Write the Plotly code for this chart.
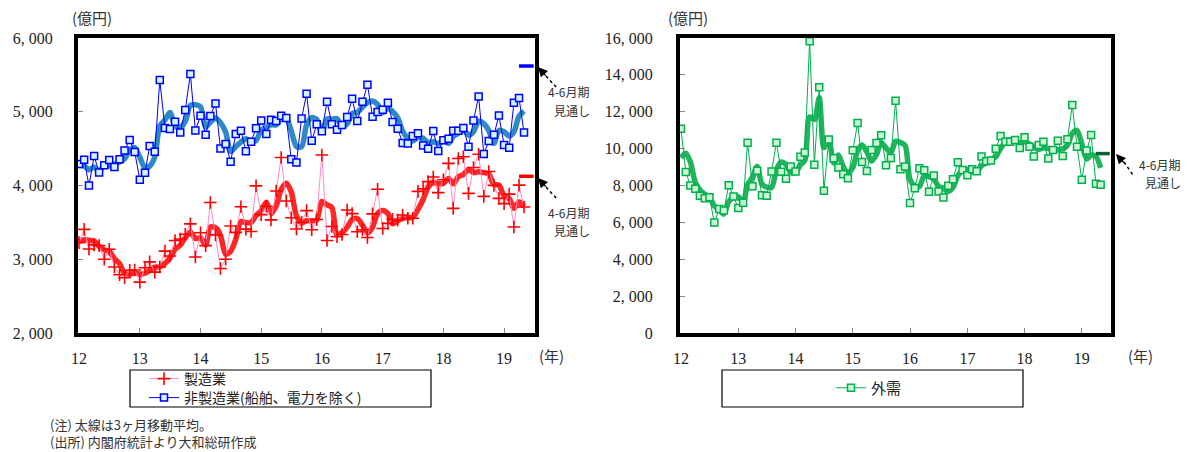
import plotly.graph_objects as go
import pandas as pd

W, H = 1187, 452

# ---------------- data ----------------
months = pd.date_range("2012-01-01", periods=89, freq="MS")

mfg = [3225, 3405, 3140, 3195, 3185, 3000, 3135, 2895, 2790, 2750, 2850, 2855, 2690, 2885, 2965, 2825,
       2895, 3110, 3045, 3255, 3275, 3340, 3480, 3030, 3360, 3185, 3770, 3330, 2875, 3000, 3450, 3365,
       3712, 3408, 3376, 3995, 3605, 3718, 3534, 3925, 4380, 3790, 3563, 3410, 3500, 3660, 3400, 3540,
       4413, 3255, 3445, 3305, 3335, 3668, 3618, 3372, 3400, 3295, 3615, 3950, 3417, 3487, 3543, 3530,
       3600, 3555, 3555, 3920, 3955, 4052, 4115, 3903, 4078, 4300, 3690, 4367, 4390, 3893, 4245, 4424,
       3853, 4190, 4002, 3826, 3754, 3883, 3438, 4005, 3708]
mfg_ma = [3245, 3265, 3257, 3247, 3173, 3127, 3107, 3010, 2940, 2812, 2797, 2818, 2798, 2810, 2847, 2892,
          2895, 2943, 3017, 3137, 3192, 3290, 3365, 3283, 3290, 3192, 3438, 3428, 3325, 3068, 3108, 3272,
          3509, 3495, 3499, 3593, 3659, 3773, 3619, 3726, 3946, 4032, 3911, 3588, 3491, 3523, 3520, 3533,
          3784, 3736, 3704, 3335, 3362, 3436, 3540, 3553, 3463, 3356, 3437, 3620, 3661, 3618, 3482, 3520,
          3558, 3562, 3570, 3677, 3810, 3976, 4041, 4023, 4032, 4094, 4023, 4119, 4149, 4217, 4176, 4187,
          4174, 4156, 4015, 4006, 3861, 3821, 3692, 3775, 3717]

nonmfg = [4291, 4350, 4000, 4400, 4177, 4273, 4345, 4251, 4355, 4476, 4616, 4454, 4079, 4174, 4535, 4458,
          5430, 4779, 4765, 4865, 4720, 5023, 5511, 4747, 4946, 4689, 4942, 5113, 4503, 4562, 4323, 4698,
          4743, 4463, 4594, 4777, 4883, 4698, 4890, 4876, 4946, 4915, 4357, 4312, 4910, 5245, 4607, 4829,
          4734, 5136, 4829, 4756, 4820, 4928, 5176, 4874, 5136, 5366, 4933, 4996, 5028, 5122, 4860, 4770,
          4575, 4571, 4670, 4707, 4544, 4499, 4738, 4467, 4612, 4634, 4743, 4743, 4779, 4526, 4882, 5208,
          4426, 4602, 4688, 4950, 4548, 4512, 5122, 5185, 4720]
nonmfg_ma = [4270, 4265, 4214, 4250, 4192, 4283, 4265, 4290, 4317, 4361, 4482, 4515, 4383, 4236, 4263, 4389,
             4808, 4889, 4991, 4803, 4783, 4869, 5085, 5094, 5068, 4794, 4859, 4915, 4853, 4726, 4463, 4528,
             4588, 4635, 4600, 4611, 4751, 4786, 4824, 4821, 4904, 4912, 4739, 4528, 4526, 4822, 4921, 4894,
             4723, 4900, 4900, 4907, 4802, 4835, 4975, 4993, 5062, 5125, 5145, 5098, 4986, 5049, 5003, 4917,
             4735, 4639, 4605, 4649, 4640, 4583, 4594, 4568, 4606, 4571, 4663, 4707, 4755, 4683, 4729, 4872,
             4839, 4745, 4572, 4747, 4729, 4670, 4727, 4940, 5009]

ext = [11081, 8738, 8000, 7819, 7441, 7315, 7369, 5990, 6730, 6640, 8010, 7405, 6774, 7060, 10324, 7954,
       8800, 7468, 7450, 8756, 10324, 8747, 8360, 9026, 8756, 9558, 9784, 15820, 9125, 13325, 7720, 10495,
       9478, 8973, 8613, 8396, 9910, 11388, 9280, 8793, 9928, 10307, 10721, 9099, 9496, 12595, 8883, 9027,
       7045, 7856, 8937, 8829, 7658, 8541, 7676, 7351, 7982, 8342, 9262, 8847, 8550, 8883, 8775, 9568,
       9315, 9352, 10000, 10685, 10379, 10379, 10469, 10036, 10613, 10108, 9568, 10198, 10379, 9460, 9928, 10433,
       9604, 10505, 12361, 10108, 8307, 9892, 10739, 8090, 8036]
ext_ma = [9500, 9750, 9273, 8186, 7753, 7525, 7375, 6891, 6696, 6453, 7127, 7352, 7396, 7080, 8053, 8446,
          9026, 8074, 7906, 7891, 8843, 9276, 9144, 8711, 8714, 9113, 9366, 11721, 11576, 12757, 10057, 10513,
          9231, 9649, 9021, 8661, 8973, 9898, 10193, 9820, 9334, 9676, 10319, 10042, 9772, 10397, 10325, 10168,
          8318, 7976, 7946, 8541, 8475, 8343, 7958, 7856, 7670, 7892, 8529, 8817, 8886, 8760, 8736, 9075,
          9219, 9412, 9556, 10012, 10355, 10481, 10409, 10295, 10373, 10252, 10096, 9958, 10048, 10012, 9922, 9940,
          9988, 10181, 10823, 10991, 10259, 9436, 9646, 9574, 8955]

fc_period = ["2019-04-01", "2019-06-28"]
fc_nonmfg = 5620
fc_mfg = 4125
fc_ext = 9730

left_ticks = [2000, 3000, 4000, 5000, 6000]
left_ticktext = ["2, 000", "3, 000", "4, 000", "5, 000", "6, 000"]
right_ticks = [0, 2000, 4000, 6000, 8000, 10000, 12000, 14000, 16000]
right_ticktext = ["0", "2, 000", "4, 000", "6, 000", "8, 000", "10, 000", "12, 000", "14, 000", "16, 000"]

# ---------------- figure ----------------
def px(x):
    return x / W

def py(y):
    return 1 - y / H

fig = go.Figure()

# left panel moving averages (thick)
fig.add_trace(go.Scatter(x=months, y=nonmfg_ma, mode="lines", showlegend=False, hoverinfo="skip",
                         line=dict(color="#2E8AC6", width=5.5, shape="spline", smoothing=0.8),
                         xaxis="x", yaxis="y"))
fig.add_trace(go.Scatter(x=months, y=mfg_ma, mode="lines", showlegend=False, hoverinfo="skip",
                         line=dict(color="#FF2626", width=5.5, shape="spline", smoothing=0.8),
                         xaxis="x", yaxis="y"))
# left panel raw series
fig.add_trace(go.Scatter(x=months, y=mfg, mode="lines+markers", name="製造業",
                         line=dict(color="#FF8CC6", width=1),
                         marker=dict(symbol="cross-thin", size=9, color="#FF0000",
                                     line=dict(color="#FF0000", width=1.6)),
                         xaxis="x", yaxis="y", legend="legend"))
fig.add_trace(go.Scatter(x=months, y=nonmfg, mode="lines+markers", name="非製造業(船舶、電力を除く)",
                         line=dict(color="#0000FF", width=1),
                         marker=dict(symbol="square", size=7, color="#D2F4FF",
                                     line=dict(color="#0000FF", width=1.5)),
                         xaxis="x", yaxis="y", legend="legend3"))
# forecasts left
fig.add_trace(go.Scatter(x=fc_period, y=[fc_nonmfg, fc_nonmfg], mode="lines", showlegend=False,
                         hoverinfo="skip", line=dict(color="#0000FF", width=3.5), cliponaxis=False,
                         xaxis="x", yaxis="y"))
fig.add_trace(go.Scatter(x=fc_period, y=[fc_mfg, fc_mfg], mode="lines", showlegend=False,
                         hoverinfo="skip", line=dict(color="#FF0000", width=3.5), cliponaxis=False,
                         xaxis="x", yaxis="y"))

# right panel
fig.add_trace(go.Scatter(x=months, y=ext_ma, mode="lines", showlegend=False, hoverinfo="skip",
                         line=dict(color="#22B45C", width=5.5, shape="spline", smoothing=0.8),
                         xaxis="x2", yaxis="y2"))
fig.add_trace(go.Scatter(x=months, y=ext, mode="lines+markers", name="外需",
                         line=dict(color="#00B050", width=1),
                         marker=dict(symbol="square", size=7, color="#CDF5D2",
                                     line=dict(color="#00B050", width=1.5)),
                         xaxis="x2", yaxis="y2", legend="legend2"))
fig.add_trace(go.Scatter(x=fc_period, y=[fc_ext, fc_ext], mode="lines", showlegend=False,
                         hoverinfo="skip", line=dict(color="#006633", width=3.5), cliponaxis=False,
                         xaxis="x2", yaxis="y2"))

tickfont = dict(family="Liberation Serif, DejaVu Serif, serif", size=16, color="#222222")
common_x = dict(type="date", range=["2011-12-26", "2019-07-06"], tick0="2012-01-01", dtick="M12",
                tickformat="%y", ticks="inside", ticklen=5, tickcolor="#888888", tickwidth=1,
                showline=True, linecolor="black", linewidth=4, mirror=True, showgrid=False,
                zeroline=False, tickfont=tickfont, ticklabelstandoff=8, automargin=False)
common_y = dict(ticks="inside", ticklen=5, tickcolor="#888888", tickwidth=1,
                showline=True, linecolor="black", linewidth=4, mirror=True, showgrid=False,
                zeroline=False, tickfont=tickfont, automargin=False)

legfont = dict(family="Noto Sans CJK JP", size=14, color="#222222")
fig.update_layout(
    width=W, height=H,
    margin=dict(l=0, r=0, t=0, b=0, pad=0, autoexpand=False),
    paper_bgcolor="white", plot_bgcolor="white",
    showlegend=True,
    xaxis=dict(domain=[px(78), px(535)], anchor="y", **common_x),
    yaxis=dict(domain=[py(333), py(38)], anchor="x", range=[2000, 6000],
               tickvals=left_ticks, ticktext=left_ticktext, ticklabelstandoff=18, **common_y),
    xaxis2=dict(domain=[px(680), px(1111)], anchor="y2", **common_x),
    yaxis2=dict(domain=[py(333), py(38)], anchor="x2", range=[0, 16000],
                tickvals=right_ticks, ticktext=right_ticktext, ticklabelstandoff=20, **common_y),
    legend=dict(x=px(144), y=py(379), xanchor="left", yanchor="middle", bgcolor="rgba(0,0,0,0)",
                borderwidth=0, font=legfont, itemwidth=30),
    legend3=dict(x=px(144), y=py(398), xanchor="left", yanchor="middle", bgcolor="rgba(0,0,0,0)",
                 borderwidth=0, font=legfont, itemwidth=30),
    legend2=dict(x=px(831), y=py(388), xanchor="left", yanchor="middle", bgcolor="rgba(0,0,0,0)",
                 borderwidth=0, font=dict(family="Noto Sans CJK JP", size=15, color="#222222"),
                 itemwidth=30),
)

shapes = [
    dict(type="rect", xref="paper", yref="paper", x0=px(130), x1=px(431), y0=py(407), y1=py(370),
         line=dict(color="black", width=1.2)),
    dict(type="rect", xref="paper", yref="paper", x0=px(722), x1=px(1023), y0=py(407), y1=py(370),
         line=dict(color="black", width=1.2)),
    dict(type="line", xref="paper", yref="paper", x0=px(546), y0=py(76), x1=px(557), y1=py(88),
         line=dict(color="black", width=1.5, dash="dot")),
    dict(type="line", xref="paper", yref="paper", x0=px(546), y0=py(187), x1=px(557), y1=py(199),
         line=dict(color="black", width=1.5, dash="dot")),
    dict(type="line", xref="paper", yref="paper", x0=px(1124), y0=py(162), x1=px(1133), y1=py(175),
         line=dict(color="black", width=1.5, dash="dot")),
]
fig.update_layout(shapes=shapes)

jp = "Noto Sans CJK JP"
ann = []
def text(x, y, s, size=14, xanchor="left", color="#333333"):
    ann.append(dict(xref="paper", yref="paper", x=px(x), y=py(y), text=s, showarrow=False,
                    xanchor=xanchor, yanchor="middle", font=dict(family=jp, size=size, color=color)))

text(70, 18, "(億円)", 15)
text(666, 18, "(億円)", 15)
text(537, 355, "(年)", 15)
text(1126, 355, "(年)", 15)
text(546, 92, "4-6月期", 12)
text(552, 110, "見通し", 12)
text(546, 212, "4-6月期", 12)
text(552, 230, "見通し", 12)
text(1137, 164, "4-6月期", 12)
text(1143, 182, "見通し", 12)
text(48, 424, "(注) 太線は3ヶ月移動平均。", 13)
text(48, 441, "(出所) 内閣府統計より大和総研作成", 13)

for (tx, ty) in [(538, 67), (538, 178), (1116, 154)]:
    ann.append(dict(xref="paper", yref="paper", x=px(tx), y=py(ty), text="", showarrow=True,
                    ax=9, ay=10, arrowhead=2, arrowsize=1.6, arrowwidth=1.2, arrowcolor="black"))

fig.update_layout(annotations=ann)

fig.write_html("out.html")
